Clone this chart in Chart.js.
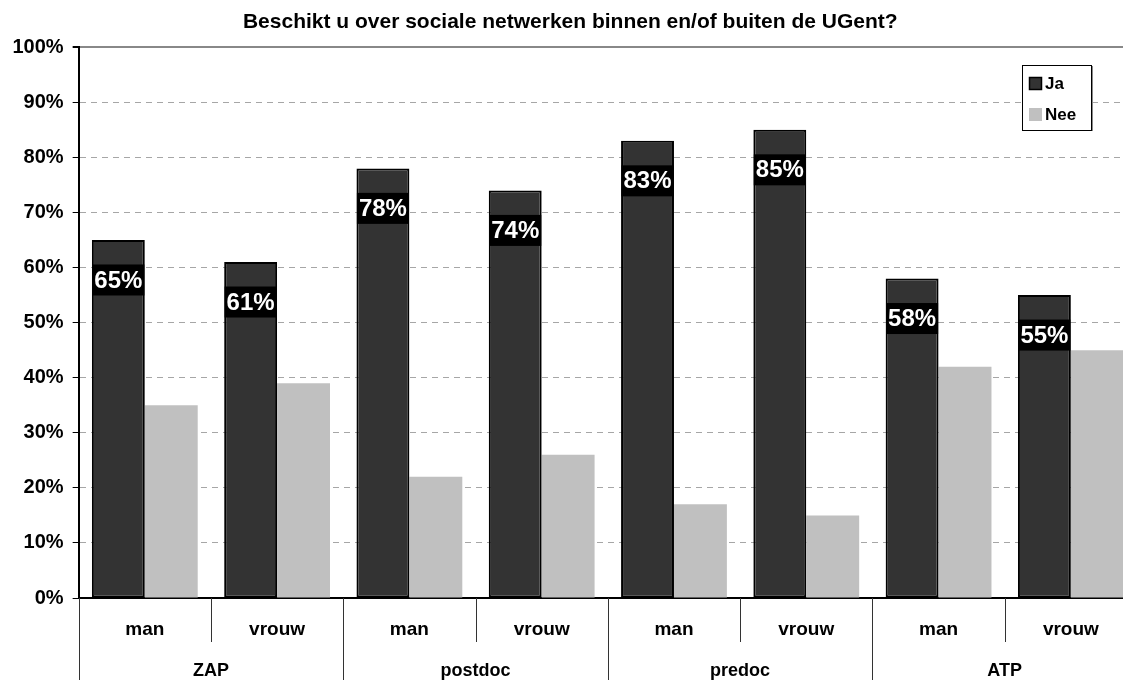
<!DOCTYPE html>
<html>
<head>
<meta charset="utf-8">
<script src="https://cdn.jsdelivr.net/npm/chart.js@4.4.1/dist/chart.umd.min.js"></script>
<style>
  body { margin: 0; overflow: hidden; background: #fff; }
  #wrap { width: 1137px; height: 680px; }
</style>
</head>
<body>
<div id="wrap"><canvas id="myChart"></canvas></div>
<script>
const title = "Beschikt u over sociale netwerken binnen en/of buiten de UGent?";
const groups = ["ZAP", "postdoc", "predoc", "ATP"];
const genders = ["man", "vrouw", "man", "vrouw", "man", "vrouw", "man", "vrouw"];
const ja = [65, 61, 78, 74, 83, 85, 58, 55];
const nee = [35, 39, 22, 26, 17, 15, 42, 45];
const seriesNames = ["Ja", "Nee"];

const FONT = "'Liberation Sans', Arial, sans-serif";
Chart.defaults.font.family = FONT;
Chart.defaults.color = "#000";

// labels on the bars, the two-level axis and the legend box
const extras = {
  id: "extras",
  afterDatasetsDraw(chart) {
    const ctx = chart.ctx;
    const meta = chart.getDatasetMeta(0);
    ctx.save();
    ctx.font = "bold 24px " + FONT;
    ctx.textAlign = "center";
    ctx.textBaseline = "middle";
    meta.data.forEach((bar, i) => {
      const txt = ja[i] + "%";
      const w = ctx.measureText(txt).width + 4;
      const cy = bar.y + 40;
      ctx.fillStyle = "#000";
      ctx.fillRect(bar.x - w / 2, cy - 15.5, w, 31);
      ctx.fillStyle = "#fff";
      ctx.fillText(txt, bar.x, cy + 1);
    });
    ctx.restore();
  },
  afterDraw(chart) {
    const ctx = chart.ctx;
    const area = chart.chartArea;
    const x = chart.scales.x;
    const step = x.getPixelForValue(1) - x.getPixelForValue(0);
    const start = x.getPixelForValue(0) - step / 2;

    ctx.save();
    ctx.strokeStyle = "#333";
    ctx.lineWidth = 1;
    for (let i = 0; i <= genders.length; i++) {
      const px = Math.round(start + i * step) + 0.5;
      ctx.beginPath();
      ctx.moveTo(px, area.bottom);
      ctx.lineTo(px, i % 2 === 0 ? chart.height : area.bottom + 44);
      ctx.stroke();
    }

    ctx.font = "bold 18px " + FONT;
    ctx.fillStyle = "#000";
    ctx.textAlign = "center";
    ctx.textBaseline = "middle";
    groups.forEach((g, i) => {
      const cx = (x.getPixelForValue(2 * i) + x.getPixelForValue(2 * i + 1)) / 2;
      ctx.fillText(g, cx, 671);
    });

    // legend
    const lx = 1022, ly = 65;
    ctx.fillStyle = "#fff";
    ctx.fillRect(lx, ly, 69, 65);
    ctx.strokeStyle = "#888";
    ctx.beginPath();
    ctx.moveTo(lx + 70.5, ly + 1);
    ctx.lineTo(lx + 70.5, ly + 66);
    ctx.stroke();
    ctx.strokeStyle = "#000";
    ctx.strokeRect(lx + 0.5, ly + 0.5, 69, 65);
    ctx.font = "bold 17px " + FONT;
    ctx.textAlign = "left";
    chart.data.datasets.forEach((ds, i) => {
      const y = ly + 12 + i * 31;
      ctx.fillStyle = ds.backgroundColor;
      ctx.fillRect(lx + 7, y, 13, 13);
      if (ds.borderWidth) {
        ctx.strokeStyle = "#000";
        ctx.lineWidth = 1.5;
        ctx.strokeRect(lx + 7.5, y + 0.5, 12, 12);
      }
      ctx.fillStyle = "#000";
      ctx.fillText(ds.label, lx + 23, y + 7);
    });
    ctx.restore();
  }
};

const ctx = document.getElementById("myChart");
new Chart(ctx, {
  type: "bar",
  data: {
    labels: genders,
    datasets: [
      {
        label: seriesNames[0],
        data: ja,
        backgroundColor: "#333333",
        borderColor: "#000",
        borderWidth: 2,
        borderSkipped: false,
      },
      {
        label: seriesNames[1],
        data: nee,
        backgroundColor: "#c0c0c0",
        borderWidth: 0,
      },
    ],
  },
  options: {
    responsive: true,
    maintainAspectRatio: false,
    animation: false,
    categoryPercentage: 0.8,
    barPercentage: 1.0,
    layout: { padding: { left: 3.5, right: 0, top: 0, bottom: 0 } },
    plugins: {
      legend: { display: false },
      tooltip: { enabled: false },
      title: {
        display: true,
        text: title,
        color: "#000",
        font: { size: 21, weight: "bold" },
        padding: { top: 10, bottom: 12 },
      },
    },
    scales: {
      x: {
        grid: { display: true, drawOnChartArea: false, drawTicks: false },
        border: { display: true, color: "#000", width: 2 },
        ticks: { font: { size: 19, weight: "bold" }, padding: 20, color: "#000" },
        afterFit(scale) {
          scale.height = 82;
        },
      },
      y: {
        min: 0,
        max: 100,
        ticks: {
          stepSize: 10,
          padding: 9,
          color: "#000",
          font: { size: 20, weight: "bold" },
          callback: (v) => v + "%",
        },
        grid: {
          color: (c) => (c.tick && c.tick.value === 100 ? "#888" : "#a6a6a6"),
          lineWidth: (c) => (c.tick && c.tick.value === 100 ? 2 : 1),
          tickColor: "#000",
          tickLength: 6,
          tickBorderDash: [],
        },
        border: {
          display: true,
          color: "#000",
          width: 2,
          dash: (c) => (c.tick && c.tick.value === 100 ? [] : [6, 5]),
        },
      },
    },
  },
  plugins: [extras],
});
</script>
</body>
</html>
